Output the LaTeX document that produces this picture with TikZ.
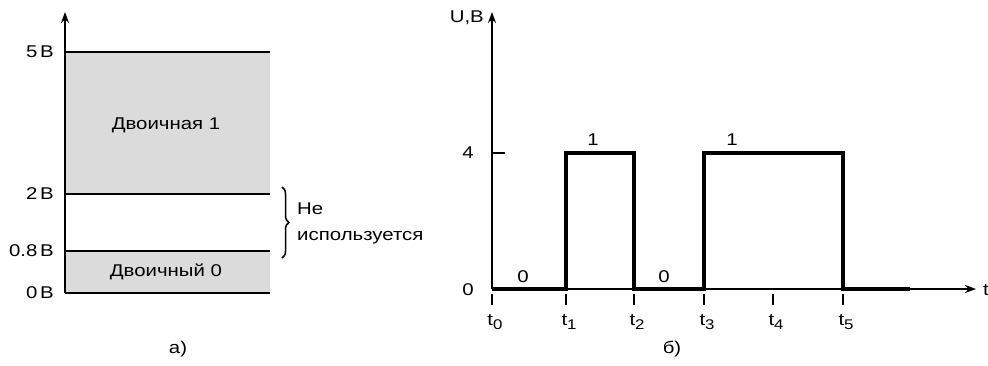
\documentclass[tikz,border=0pt]{standalone}
\usepackage{fontspec}
\setmainfont{Liberation Sans}[FakeStretch=1.2]
\usetikzlibrary{arrows.meta,decorations.pathreplacing}
\newcommand{\tsub}[1]{t\raisebox{-0.45ex}{\fontsize{14}{14}\selectfont #1}}
\begin{document}
\begin{tikzpicture}[x=1pt,y=-1pt,
  every node/.style={font=\fontsize{17}{26}\selectfont, inner sep=1pt},
  axisline/.style={line width=1.8pt, -{Stealth[length=11pt,width=8pt]}},
  levelline/.style={line width=1.8pt},
  sigline/.style={line width=4.5pt, line join=miter},
  tickmark/.style={line width=2.2pt},
  zone/.style={fill=black!14}]
\useasboundingbox (0,0) rectangle (988,365);
% ---- panel a ----
\fill[zone] (65,52) rectangle (270,194);
\fill[zone] (65,251) rectangle (270,293);
\coordinate (a0) at (65,293);
\coordinate (atop) at (65,12);
\draw[levelline] (65,52) -- (270,52);
\draw[levelline] (65,194) -- (270,194);
\draw[levelline] (65,251) -- (270,251);
\draw[levelline] (65,293) -- (270,293);
\draw[axisline] (a0) -- (atop);
\node[anchor=east] (v5) at (55,52) {5\,В};
\node[anchor=east] (v2) at (55,194) {2\,В};
\node[anchor=east] (v08) at (55,251) {0.8\,В};
\node[anchor=east] (v0) at (55,293) {0\,В};
\node (one) at (166,125) {Двоичная 1};
\node (zero) at (166,272) {Двоичный 0};
\coordinate (bt) at (282,187);
\coordinate (bb) at (282,258);
\draw[line width=1.5pt, decorate, decoration={brace, amplitude=7pt}] (bt) -- (bb);
\node[anchor=west, align=left] (nu) at (296,223) {Не\\используется};
\node (capa) at (178,349) {а)};
% ---- panel b ----
\coordinate (o) at (492,289);
\coordinate (ytop) at (492,12);
\coordinate (xend) at (976,289);
\draw[axisline] (o) -- (xend);
\draw[axisline] (o) -- (ytop);
\draw[levelline] (492,153) -- (505,153);
\node[anchor=east] (ub) at (485,18) {U,B};
\node (t) at (986,290) {t};
\node[anchor=east] (l4) at (475,153) {4};
\node[anchor=east] (l0) at (475,290) {0};
\draw[sigline] (o) -- (566,289) -- (566,153) -- (634,153) -- (634,289) -- (704,289) -- (704,153) -- (843,153) -- (843,289) -- (910,289);
\foreach \x/\i in {492/0,566/1,634/2,704/3,773/4,843/5}{
  \draw[tickmark] (\x,294) -- (\x,305);
  \node (t\i) at (\x+3,322) {\tsub{\i}};
}
\node (z1) at (523,277) {0};
\node (z2) at (664,277) {0};
\node (o1) at (593,140) {1};
\node (o2) at (732,140) {1};
\node (capb) at (672,349) {б)};
\end{tikzpicture}
\end{document}
